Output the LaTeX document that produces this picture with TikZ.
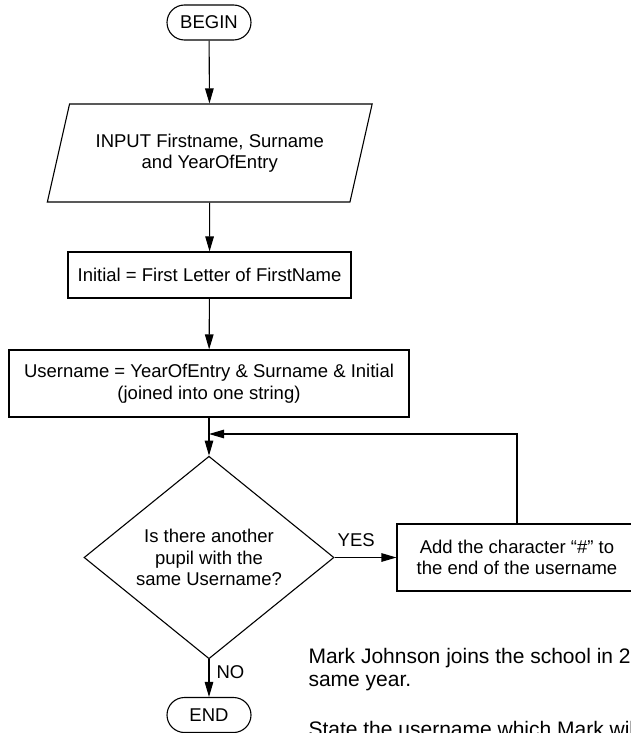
\documentclass[tikz,border=0pt]{standalone}
\usepackage{fontspec}
\setmainfont{Liberation Sans}
\usetikzlibrary{shapes.geometric,shapes.misc,arrows.meta}
\begin{document}
\begin{tikzpicture}[x=1pt,y=-1pt,
  every node/.style={font=\fontsize{18.5}{21.5}\selectfont, align=center, line width=1.1pt},
  box/.style={draw, rectangle, inner sep=0pt},
  term/.style={draw, rounded rectangle, minimum width=84pt, minimum height=35pt, inner sep=0pt},
  io/.style={draw, trapezium, trapezium left angle=65, trapezium right angle=115, trapezium stretches=true, minimum width=326pt, minimum height=98pt, inner sep=0pt},
  decision/.style={draw, diamond, minimum width=250pt, minimum height=183pt, inner sep=0pt},
  arr/.style={line width=1.1pt, -{Triangle[length=15pt,width=8.5pt]}},
  side/.style={font=\fontsize{21}{24}\selectfont, anchor=base west, inner sep=0pt, align=left}]
\useasboundingbox (0,0) rectangle (631,733);
\node[term] (begin) at (209,22.5) {BEGIN};
\node[io] (inp) at (209.75,153) {INPUT Firstname, Surname\\and YearOfEntry};
\node[box, minimum width=283pt, minimum height=46pt] (init) at (209.5,275) {Initial = First Letter of FirstName};
\node[box, minimum width=400pt, minimum height=67pt] (user) at (209,383.5) {Username = YearOfEntry \& Surname \& Initial\\(joined into one string)};
\node[decision] (dec) at (209,557.5) {Is there another\\pupil with the\\same Username?};
\node[box, minimum width=240pt, minimum height=67pt] (add) at (517,557.5) {Add the character “\#” to\\the end of the username};
\node[term] (endn) at (209,715) {END};
\coordinate (join) at (209,434);
\draw[arr] (begin) -- (inp);
\draw[arr] (inp) -- (init);
\draw[arr] (init) -- (user);
\draw[arr] (user) -- (dec);
\draw[arr] (add.north) |- (join);
\draw[arr] (dec.east) -- node[pos=0.35, above=10pt, inner sep=0pt] (yes) {YES} (add.west);
\draw[arr] (dec.south) -- node[pos=0.33, right=7pt, inner sep=0pt] (no) {NO} (endn.north);
\node[side] (t1) at (308,663) {Mark Johnson joins the school in 2};
\node[side] (t2) at (308,686) {same year.};
\node[side] (t3) at (308,736) {State the username which Mark wil};
\end{tikzpicture}
\end{document}
